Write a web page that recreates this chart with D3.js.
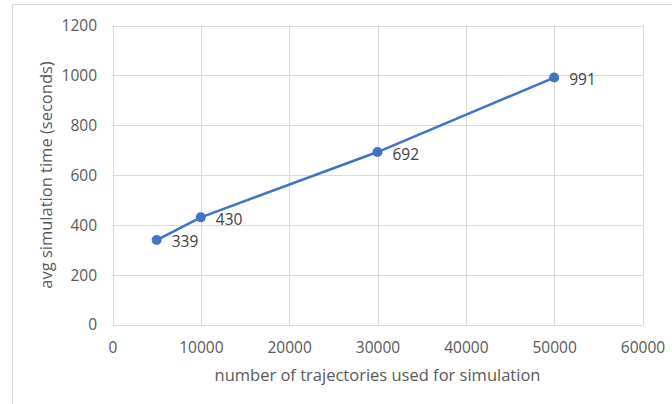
<!DOCTYPE html>
<html>
<head>
<meta charset="utf-8">
<script src="https://cdn.jsdelivr.net/npm/d3@7"></script>
<style>
  html, body { margin: 0; padding: 0; background: #fff; }
  svg { display: block; }
</style>
</head>
<body>
<svg id="chart" width="672" height="404"></svg>
<script>
const trajectories = [5000, 10000, 30000, 50000];
const simTimes = [339, 430, 692, 991];
const xTicks = [0, 10000, 20000, 30000, 40000, 50000, 60000];
const yTicks = [0, 200, 400, 600, 800, 1000, 1200];
const xTitle = "number of trajectories used for simulation";
const yTitle = "avg simulation time (seconds)";

const svg = d3.select("#chart");
const font = "'Open Sans', 'Noto Sans', sans-serif";

// chart area border
svg.append("rect")
  .attr("x", 12.5).attr("y", 4.5)
  .attr("width", 700).attr("height", 440)
  .attr("fill", "#fff").attr("stroke", "#d9d9d9").attr("stroke-width", 1);

const x = d3.scaleLinear().domain([0, 60000]).range([112.5, 642.5]);
const y = d3.scaleLinear().domain([0, 1200]).range([324.5, 25.5]);

// gridlines
const grid = svg.append("g");
grid.selectAll("line.h").data(yTicks).enter().append("line")
  .attr("x1", x(0)).attr("x2", x(60000))
  .attr("y1", d => Math.round(y(d)) + 0.5).attr("y2", d => Math.round(y(d)) + 0.5)
  .attr("stroke", "#d9d9d9").attr("stroke-width", 1);
grid.selectAll("line.v").data(xTicks).enter().append("line")
  .attr("x1", d => Math.round(x(d)) + 0.5).attr("x2", d => Math.round(x(d)) + 0.5)
  .attr("y1", y(0)).attr("y2", y(1200))
  .attr("stroke", "#d9d9d9").attr("stroke-width", 1);

// axes labels via d3 axes (domain/ticks hidden)
const xAxis = svg.append("g")
  .attr("transform", `translate(0, ${y(0)})`)
  .call(d3.axisBottom(x).tickValues(xTicks).tickSize(0).tickPadding(0).tickFormat(d3.format("d")));
xAxis.select(".domain").remove();
xAxis.selectAll("text")
  .attr("y", 28).attr("dy", null)
  .attr("fill", "#595959")
  .style("font-family", font).style("font-size", "15.5px");

const yAxis = svg.append("g")
  .attr("transform", `translate(97, 0)`)
  .call(d3.axisLeft(y).tickValues(yTicks).tickSize(0).tickPadding(0).tickFormat(d3.format("d")));
yAxis.select(".domain").remove();
yAxis.selectAll("text")
  .attr("x", 0).attr("dy", "0.35em")
  .attr("fill", "#595959")
  .style("font-family", font).style("font-size", "15.5px");

// line
const pts = trajectories.map((t, i) => ({ t, v: simTimes[i] }));
svg.append("path")
  .datum(pts)
  .attr("fill", "none")
  .attr("stroke", "#4472c4")
  .attr("stroke-width", 2.6)
  .attr("stroke-linejoin", "round")
  .attr("d", d3.line().x(d => x(d.t)).y(d => y(d.v)));

svg.selectAll("circle.pt").data(pts).enter().append("circle")
  .attr("cx", d => x(d.t)).attr("cy", d => y(d.v)).attr("r", 5)
  .attr("fill", "#4472c4");

// data labels
svg.selectAll("text.lbl").data(pts).enter().append("text")
  .attr("x", d => x(d.t) + 15).attr("y", d => y(d.v) + 2)
  .attr("dy", "0.35em")
  .attr("fill", "#404040")
  .style("font-family", font).style("font-size", "15.5px")
  .text(d => d.v);

// axis titles
svg.append("text")
  .attr("x", (x(0) + x(60000)) / 2).attr("y", 381)
  .attr("text-anchor", "middle")
  .attr("fill", "#595959")
  .style("font-family", font).style("font-size", "16.5px")
  .text(xTitle);

svg.append("text")
  .attr("transform", `translate(52, ${(y(0) + y(1200)) / 2}) rotate(-90)`)
  .attr("text-anchor", "middle")
  .attr("fill", "#595959")
  .style("font-family", font).style("font-size", "16.5px")
  .text(yTitle);
</script>
</body>
</html>
